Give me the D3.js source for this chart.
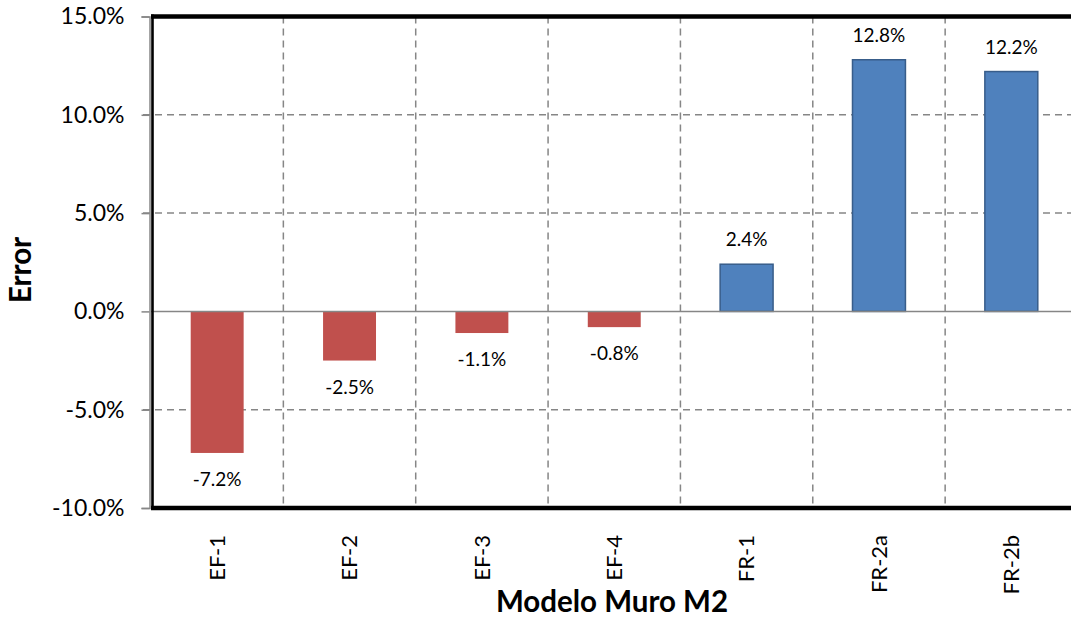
<!DOCTYPE html>
<html>
<head>
<meta charset="utf-8">
<script src="https://cdn.jsdelivr.net/npm/d3@7"></script>
<style>
  html, body { margin: 0; padding: 0; background: #ffffff; }
  svg { display: block; font-family: Lato, "Open Sans", sans-serif; }
</style>
</head>
<body>
<svg id="chart" width="1071" height="617"></svg>
<script>
// Error of each wall model (percent)
const categories = ["EF-1", "EF-2", "EF-3", "EF-4", "FR-1", "FR-2a", "FR-2b"];
const errors = [-7.2, -2.5, -1.1, -0.8, 2.4, 12.8, 12.2];
const yTicks = [-10, -5, 0, 5, 10, 15];
const xTitle = "Modelo Muro M2";
const yTitle = "Error";

const svg = d3.select("#chart");
const plotLeft = 151, plotRight = 1077.5, plotTop = 16.5, plotBottom = 508;

const x = d3.scaleBand().domain(categories).range([plotLeft, plotRight]).paddingInner(0).paddingOuter(0);
const y = d3.scaleLinear().domain([-10, 15]).range([plotBottom, plotTop]);
const barW = x.bandwidth() * 0.4;
const fmt = v => v.toFixed(1) + "%";

// horizontal grid (dashed); the zero line is drawn solid afterwards
svg.append("g").selectAll("line")
  .data(yTicks.filter(t => t !== 0 && t !== 15 && t !== -10))
  .join("line")
  .attr("x1", plotLeft - 8).attr("x2", plotRight)
  .attr("y1", d => y(d)).attr("y2", d => y(d))
  .attr("stroke", "#868686").attr("stroke-width", 1.5)
  .attr("stroke-dasharray", "7,5");

// vertical grid at category boundaries
svg.append("g").selectAll("line")
  .data(categories.slice(1))
  .join("line")
  .attr("x1", d => x(d)).attr("x2", d => x(d))
  .attr("y1", plotTop).attr("y2", plotBottom)
  .attr("stroke", "#868686").attr("stroke-width", 1.5)
  .attr("stroke-dasharray", "7,5");

// y axis ticks and labels
const yAxis = d3.axisLeft(y).tickValues(yTicks).tickFormat(fmt).tickSize(8).tickPadding(17);
const gy = svg.append("g").attr("transform", `translate(${plotLeft - 1.5},0)`).call(yAxis);
gy.select(".domain").attr("stroke", "#868686").attr("stroke-width", 1.5);
gy.selectAll(".tick line").attr("stroke", "#868686").attr("stroke-width", 1.5);
gy.selectAll(".tick text").attr("font-size", 23).attr("fill", "#000")
  .attr("font-family", "Lato, 'Open Sans', sans-serif");

// bars
svg.append("g").selectAll("rect")
  .data(categories.map((c, i) => ({ c, v: errors[i] })))
  .join("rect")
  .attr("x", d => x(d.c) + (x.bandwidth() - barW) / 2)
  .attr("width", barW)
  .attr("y", d => y(Math.max(0, d.v)))
  .attr("height", d => Math.abs(y(d.v) - y(0)))
  .attr("fill", d => d.v < 0 ? "#C0504D" : "#4F81BD")
  .attr("stroke", d => d.v < 0 ? "none" : "#385D8A")
  .attr("stroke-width", 1.5);

// zero line
svg.append("line")
  .attr("x1", plotLeft).attr("x2", plotRight)
  .attr("y1", y(0)).attr("y2", y(0))
  .attr("stroke", "#868686").attr("stroke-width", 1.5);

// value labels
svg.append("g").selectAll("text")
  .data(categories.map((c, i) => ({ c, v: errors[i] })))
  .join("text")
  .attr("x", d => x(d.c) + x.bandwidth() / 2)
  .attr("y", d => d.v < 0 ? y(d.v) + 33 : y(d.v) - 18)
  .attr("text-anchor", "middle")
  .attr("font-size", 19)
  .attr("fill", "#000")
  .text(d => fmt(d.v));

// frame: left, top, bottom
svg.append("line").attr("x1", plotLeft + 1.5).attr("x2", plotLeft + 1.5)
  .attr("y1", plotTop - 2).attr("y2", plotBottom + 2)
  .attr("stroke", "#000").attr("stroke-width", 2.6);
svg.append("line").attr("x1", plotLeft).attr("x2", 1071)
  .attr("y1", plotTop).attr("y2", plotTop)
  .attr("stroke", "#000").attr("stroke-width", 4.5);
svg.append("line").attr("x1", plotLeft).attr("x2", 1071)
  .attr("y1", plotBottom).attr("y2", plotBottom)
  .attr("stroke", "#000").attr("stroke-width", 4.5);

// category labels (rotated)
svg.append("g").selectAll("text")
  .data(categories)
  .join("text")
  .attr("transform", d => `translate(${x(d) + x.bandwidth() / 2},535) rotate(-90)`)
  .attr("text-anchor", "end")
  .attr("dy", "0.35em")
  .attr("font-size", 22)
  .attr("fill", "#000")
  .text(d => d);

// axis titles
svg.append("text")
  .attr("x", 612).attr("y", 612)
  .attr("text-anchor", "middle")
  .attr("font-size", 29.5).attr("font-weight", "bold")
  .attr("fill", "#000")
  .text(xTitle);

svg.append("text")
  .attr("transform", "translate(31,270) rotate(-90)")
  .attr("text-anchor", "middle")
  .attr("font-size", 29.5).attr("font-weight", "bold")
  .attr("fill", "#000")
  .text(yTitle);
</script>
</body>
</html>
